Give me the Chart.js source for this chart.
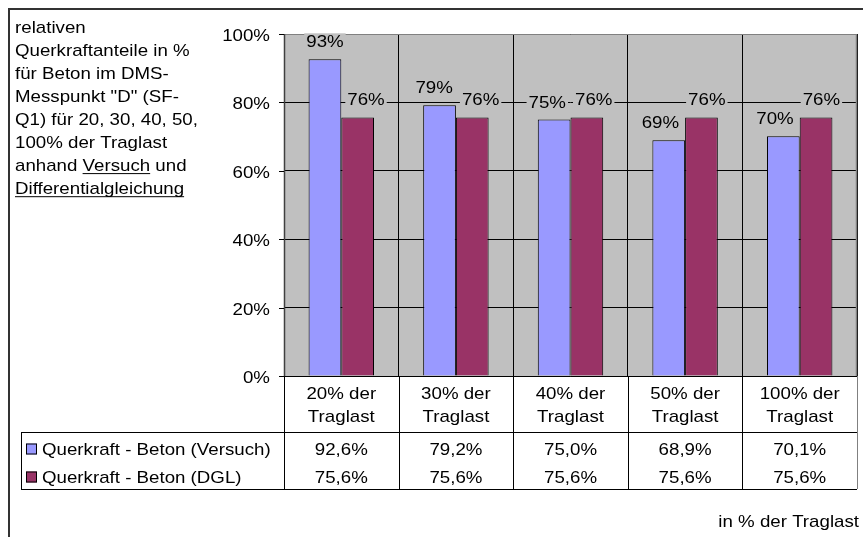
<!DOCTYPE html>
<html lang="de">
<head>
<meta charset="utf-8">
<title>Querkraftanteile Beton</title>
<script src="https://cdn.jsdelivr.net/npm/chart.js@4/dist/chart.umd.min.js"></script>
<style>
  html, body { margin: 0; padding: 0; background: #fff; }
  #wrap { width: 863px; height: 537px; }
</style>
</head>
<body>
<div id="wrap"><canvas id="chart" width="863" height="537"></canvas></div>
<script>
// Kategorien (Laststufen) und Messwerte in %
const categories = [
    ["20% der", "Traglast"],
    ["30% der", "Traglast"],
    ["40% der", "Traglast"],
    ["50% der", "Traglast"],
    ["100% der", "Traglast"],
];
const versuchValues = [92.6, 79.2, 75.0, 68.9, 70.1];
const dglValues = [75.6, 75.6, 75.6, 75.6, 75.6];
const seriesNames = ["Querkraft - Beton (Versuch)", "Querkraft - Beton (DGL)"];
const seriesColors = ["#9999FF", "#993366"];

// Beschriftung links oben; u = unterstrichen
const titleLines = [
    [{ t: "relativen" }],
    [{ t: "Querkraftanteile in %" }],
    [{ t: "für Beton im DMS-" }],
    [{ t: "Messpunkt \"D\" (SF-" }],
    [{ t: "Q1) für 20, 30, 40, 50," }],
    [{ t: "100% der Traglast" }],
    [{ t: "anhand " }, { t: "Versuch", u: true }, { t: " und" }],
    [{ t: "Differentialgleichung", u: true }],
];
const unitNote = "in % der Traglast";

const FONT = "17px 'Liberation Sans', Arial, sans-serif";
const SX = 1.1;           // horizontale Streckung der Schrift
const PLOT_BG = "#C0C0C0";

function textWidth(ctx, s) {
    return ctx.measureText(s).width * SX;
}

// Text mit Streckung zeichnen, align: left | center | right
function drawText(ctx, s, x, y, align) {
    const w = textWidth(ctx, s);
    let left = x;
    if (align === "center") left = x - w / 2;
    if (align === "right") left = x - w;
    ctx.save();
    ctx.translate(left, y);
    ctx.scale(SX, 1);
    ctx.textAlign = "left";
    ctx.textBaseline = "alphabetic";
    ctx.fillText(s, 0, 0);
    ctx.restore();
    return w;
}

function hline(ctx, x1, x2, y, color, width) {
    ctx.beginPath();
    ctx.strokeStyle = color;
    ctx.lineWidth = width || 1;
    ctx.moveTo(x1, y);
    ctx.lineTo(x2, y);
    ctx.stroke();
}

function vline(ctx, x, y1, y2, color, width) {
    ctx.beginPath();
    ctx.strokeStyle = color;
    ctx.lineWidth = width || 1;
    ctx.moveTo(x, y1);
    ctx.lineTo(x, y2);
    ctx.stroke();
}

const fmtDe = v => v.toFixed(1).replace(".", ",") + "%";

// Platzierung der Wertebeschriftungen: über dem Balken, weg vom Nachbarbalken
// und auseinander, wenn sich beide Beschriftungen berühren
const LBL_RISE = 12, LBL_PAD = 2, BAR_CLEAR = 4, LBL_GAP = 9;

function placeLabels(ctx, ba, bb, la, lb) {
    const wa = textWidth(ctx, la), wb = textWidth(ctx, lb);
    const A = { s: la, w: wa, x: ba.x, y: ba.y - LBL_RISE, fixed: false };
    const B = { s: lb, w: wb, x: bb.x, y: bb.y - LBL_RISE, fixed: false };
    const halfBar = ba.width / 2;
    // linke Beschriftung kollidiert mit rechtem Balken?
    if (bb.y < A.y + 4) {
        const maxRight = bb.x - halfBar - BAR_CLEAR;
        if (A.x + A.w / 2 + LBL_PAD > maxRight) {
            A.x = maxRight - LBL_PAD - A.w / 2;
            A.fixed = true;
        }
    }
    // rechte Beschriftung kollidiert mit linkem Balken?
    if (ba.y < B.y + 4) {
        const minLeft = ba.x + halfBar + BAR_CLEAR;
        if (B.x - B.w / 2 - LBL_PAD < minLeft) {
            B.x = minLeft + LBL_PAD + B.w / 2;
            B.fixed = true;
        }
    }
    if (Math.abs(A.y - B.y) < 24) {
        const overlap = (A.x + A.w / 2 + LBL_GAP) - (B.x - B.w / 2);
        if (overlap > 0) {
            if (A.fixed && !B.fixed) B.x += overlap;
            else if (B.fixed && !A.fixed) A.x -= overlap;
            else { A.x -= overlap / 2; B.x += overlap / 2; }
        }
    }
    return [A, B];
}

const excelPlugin = {
    id: "excelPlugin",
    beforeDraw(chart) {
        const { ctx, chartArea: a } = chart;
        ctx.save();
        ctx.fillStyle = "#fff";
        ctx.fillRect(0, 0, chart.width, chart.height);
        ctx.strokeStyle = "#333";
        ctx.lineWidth = 2;
        ctx.strokeRect(9, 9, 900, 600);
        ctx.fillStyle = PLOT_BG;
        ctx.fillRect(a.left, a.top, a.right - a.left, a.bottom - a.top);
        ctx.restore();
    },
    afterDatasetsDraw(chart) {
        const { ctx, chartArea: a } = chart;
        const metaA = chart.getDatasetMeta(0);
        const metaB = chart.getDatasetMeta(1);
        ctx.save();

        // Rahmen der Zeichnungsfläche
        hline(ctx, a.left, a.right, a.top + 0.5, "#808080");
        vline(ctx, a.right - 0.5, a.top, a.bottom, "#808080", 1.5);
        vline(ctx, a.left + 0.5, a.top, a.bottom + 1, "#404040", 1.5);
        hline(ctx, a.left, a.right, a.bottom + 0.5, "#000");

        // Datenbeschriftungen mit Hintergrund in Flächenfarbe
        ctx.font = FONT;
        for (let i = 0; i < categories.length; i++) {
            const labels = placeLabels(ctx, metaA.data[i], metaB.data[i],
                Math.round(versuchValues[i]) + "%", Math.round(dglValues[i]) + "%");
            labels.forEach(l => {
                ctx.fillStyle = PLOT_BG;
                ctx.fillRect(l.x - l.w / 2 - LBL_PAD, l.y - 14, l.w + 2 * LBL_PAD, 18);
                ctx.fillStyle = "#000";
                drawText(ctx, l.s, l.x, l.y, "center");
            });
        }
        ctx.restore();
    },
    afterDraw(chart) {
        const { ctx, chartArea: a, scales } = chart;
        const y = scales.y, x = scales.x;
        ctx.save();
        ctx.font = FONT;
        ctx.fillStyle = "#000";

        // Y-Achse: Teilstriche und Beschriftung
        y.ticks.forEach(t => {
            const py = Math.round(y.getPixelForValue(t.value)) + 0.5;
            hline(ctx, a.left - 5, a.left, py, "#000");
            drawText(ctx, t.value + "%", a.left - 14, py + 6, "right");
        });

        // Datentabelle unter der Achse
        const rowTop = a.bottom;
        const headBottom = 432;
        const tableBottom = 489;
        const tableLeft = 21;
        const half = (x.getPixelForValue(1) - x.getPixelForValue(0)) / 2;
        for (let i = 0; i <= categories.length; i++) {
            const px = i < categories.length
                ? x.getPixelForValue(i) - half
                : x.getPixelForValue(categories.length - 1) + half;
            const col = i === categories.length ? "#808080" : "#000";
            vline(ctx, Math.round(px) + 0.5, rowTop, tableBottom, col);
        }
        hline(ctx, tableLeft, a.right, headBottom + 0.5, "#000");
        hline(ctx, tableLeft, a.right, tableBottom + 0.5, "#000");
        vline(ctx, tableLeft + 0.5, headBottom, tableBottom, "#000");

        categories.forEach((lines, i) => {
            const cx = x.getPixelForValue(i);
            drawText(ctx, lines[0], cx, 398.5, "center");
            drawText(ctx, lines[1], cx, 421.5, "center");
            drawText(ctx, fmtDe(versuchValues[i]), cx, 454.5, "center");
            drawText(ctx, fmtDe(dglValues[i]), cx, 482.5, "center");
        });

        // Legendenschlüssel in der Tabelle
        [443.5, 471.5].forEach((ky, r) => {
            ctx.fillStyle = seriesColors[r];
            ctx.fillRect(26, ky, 11, 11);
            ctx.strokeStyle = "#000";
            ctx.lineWidth = 1;
            ctx.strokeRect(26.5, ky + 0.5, 10, 10);
            ctx.fillStyle = "#000";
            drawText(ctx, seriesNames[r], 42, ky + 11, "left");
        });

        // Titeltext mit Unterstreichungen
        titleLines.forEach((segs, li) => {
            const by = 32.5 + li * 23.1;
            let cx = 15;
            segs.forEach(seg => {
                const w = drawText(ctx, seg.t, cx, by, "left");
                if (seg.u) hline(ctx, cx, cx + w, by + 2.5, "#000");
                cx += w;
            });
        });

        drawText(ctx, unitNote, 859, 527, "right");
        ctx.restore();
    },
};

new Chart(document.getElementById("chart"), {
    type: "bar",
    data: {
        labels: categories,
        datasets: [
            {
                label: seriesNames[0],
                data: versuchValues,
                backgroundColor: seriesColors[0],
                borderColor: "#000",
                borderWidth: 1,
            },
            {
                label: seriesNames[1],
                data: dglValues,
                backgroundColor: seriesColors[1],
                borderColor: "#000",
                borderWidth: 1,
            },
        ],
    },
    options: {
        responsive: false,
        animation: false,
        devicePixelRatio: 1,
        layout: { padding: { top: 34, right: 6, left: 0, bottom: 0 } },
        datasets: { bar: { categoryPercentage: 0.571, barPercentage: 1 } },
        plugins: {
            legend: { display: false },
            tooltip: { enabled: false },
            title: { display: false },
        },
        scales: {
            x: {
                ticks: { display: false },
                grid: { color: "#000", drawTicks: false, offset: true },
                border: { display: false },
                afterFit: s => { s.height = 161; },
            },
            y: {
                min: 0,
                max: 100,
                ticks: { display: false, stepSize: 20 },
                grid: { color: "#000", drawTicks: false },
                border: { display: false },
                afterFit: s => { s.width = 284; },
            },
        },
    },
    plugins: [excelPlugin],
});
</script>
</body>
</html>
